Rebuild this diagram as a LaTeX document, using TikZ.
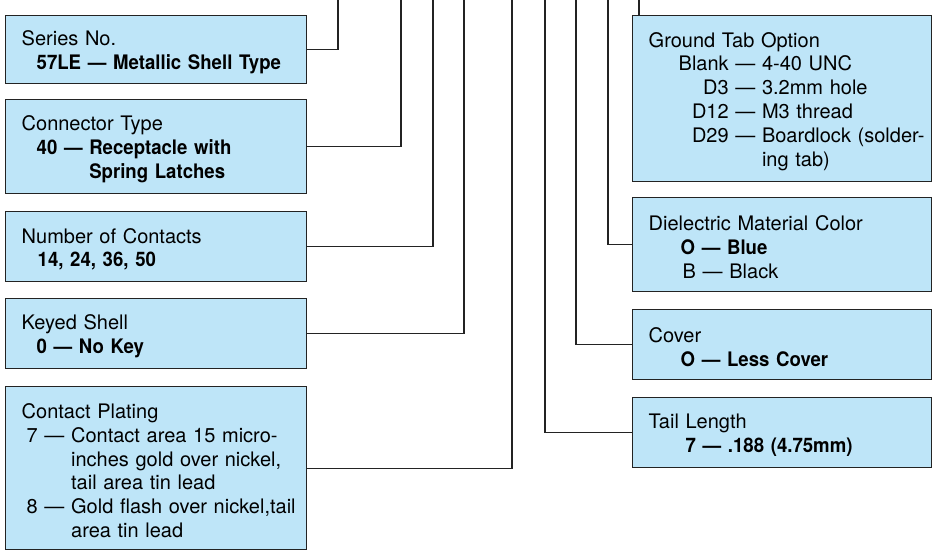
\documentclass[tikz,border=0pt]{standalone}
\usepackage{fontspec}
\setmainfont{TeX Gyre Heros}[BoldFeatures={FakeStretch=0.93}]
\definecolor{boxblue}{RGB}{190,229,248}
\definecolor{inkline}{RGB}{35,35,35}
\newcommand\oneline[1]{\mbox{#1}}
\newcommand\firstln{\rule{0pt}{20pt}}
\begin{document}
\begin{tikzpicture}[x=1pt,y=-1pt,
  infobox/.style={draw=inkline, line width=1.4pt, fill=boxblue, anchor=north west,
    align=left, inner xsep=16pt, inner ysep=0pt, text width=#1,
    font=\fontsize{20pt}{23.8pt}\selectfont},
  conn/.style={draw=inkline, line width=1.2pt}]
\useasboundingbox (0,0) rectangle (932,550);
% left boxes
\node[infobox=269pt, minimum height=68pt] (b1) at (5,15)
  {\firstln Series No.\\\oneline{\hspace*{15pt}\textbf{57LE — Metallic Shell Type}}};
\node[infobox=269pt, minimum height=94pt] (b2) at (5,99)
  {\firstln Connector Type\\\oneline{\hspace*{15pt}\textbf{40 — Receptacle with}}\\\oneline{\hspace*{15pt}\textbf{\phantom{40 — }Spring Latches}}};
\node[infobox=269pt, minimum height=70pt] (b3) at (5,211)
  {\firstln Number of Contacts\\\oneline{\hspace*{16pt}\textbf{14, 24, 36, 50}}};
\node[infobox=269pt, minimum height=70pt] (b4) at (5,298)
  {\firstln Keyed Shell\\\oneline{\hspace*{15pt}\textbf{0 — No Key}}};
\node[infobox=269pt, minimum height=163pt] (b5) at (5,386)
  {\firstln Contact Plating\\
   \oneline{\hspace*{5pt}7 — Contact area 15 micro-}\\
   \oneline{\hspace*{5pt}\phantom{7 — }inches gold over nickel,}\\
   \oneline{\hspace*{5pt}\phantom{7 — }tail area tin lead}\\
   \oneline{\hspace*{5pt}8 — Gold flash over nickel,tail}\\
   \oneline{\hspace*{5pt}\phantom{8 — }area tin lead}};
% right boxes
\node[infobox=267pt, minimum height=166pt] (r1) at (632,15)
  {\firstln Ground Tab Option\\
   \oneline{\hspace*{30pt}\makebox[50pt][r]{Blank} — 4-40 UNC}\\
   \oneline{\hspace*{30pt}\makebox[50pt][r]{D3} — 3.2mm hole}\\
   \oneline{\hspace*{30pt}\makebox[50pt][r]{D12} — M3 thread}\\
   \oneline{\hspace*{30pt}\makebox[50pt][r]{D29} — Boardlock (solder-}\\
   \oneline{\hspace*{30pt}\makebox[50pt][r]{}\phantom{ — }ing tab)}};
\node[infobox=267pt, minimum height=94pt] (r2) at (632,197)
  {\firstln Dielectric Material Color\\
   \oneline{\hspace*{32pt}\textbf{O — Blue}}\\
   \oneline{\hspace*{34pt}B — Black}};
\node[infobox=267pt, minimum height=70pt] (r3) at (632,309)
  {\firstln Cover\\\oneline{\hspace*{32pt}\textbf{O — Less Cover}}};
\node[infobox=267pt, minimum height=70pt] (r4) at (632,397)
  {\firstln Tail Length\\\oneline{\hspace*{37pt}\textbf{7 — .188 (4.75mm)}}};
% top ends of the leader lines
\coordinate (t1) at (338,0);
\coordinate (t2) at (401,0);
\coordinate (t3) at (433,0);
\coordinate (t4) at (464,0);
\coordinate (t5) at (512,0);
\coordinate (t6) at (545,0);
\coordinate (t7) at (576,0);
\coordinate (t8) at (608,0);
\coordinate (t9) at (639,0);
% connectors
\draw[conn] (b1.east) -| (t1);
\draw[conn] (b2.east) -| (t2);
\draw[conn] (b3.east) -| (t3);
\draw[conn] (b4.east) -| (t4);
\draw[conn] (b5.east) -| (t5);
\draw[conn] (r4.west) -| (t6);
\draw[conn] (r3.west) -| (t7);
\draw[conn] (r2.west) -| (t8);
\draw[conn] (t9) -- (t9 |- r1.north);
\end{tikzpicture}
\end{document}
